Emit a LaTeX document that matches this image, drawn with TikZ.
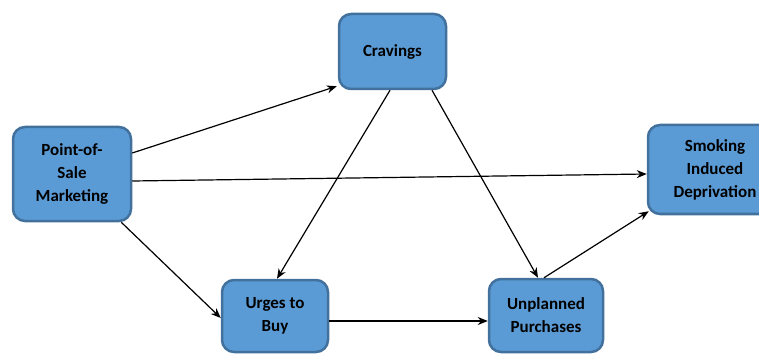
\documentclass[tikz,border=0pt]{standalone}
\usepackage{fontspec}
\setmainfont{Carlito}
\usetikzlibrary{calc,arrows.meta}
\definecolor{boxfill}{RGB}{91,155,213}
\definecolor{boxline}{RGB}{65,113,156}
\tikzset{
  block/.style={draw=boxline, fill=boxfill, line width=2.5pt, rounded corners=12pt,
    align=center, inner sep=0pt,
    font=\fontsize{17}{23}\selectfont\bfseries, text=black},
  conn/.style={line width=1.2pt, -{Stealth[length=10pt,width=8pt]}}
}
\begin{document}
\begin{tikzpicture}[x=1pt,y=-1pt]
\useasboundingbox (0,0) rectangle (759,355);
\node[block, minimum width=107pt, minimum height=75pt] (crav) at (392.5,51.5) {Cravings};
\node[block, minimum width=118pt, minimum height=94pt] (pos) at (72,174) {Point-of-\\Sale\\Marketing};
\node[block, minimum width=134pt, minimum height=89pt] (smoke) at (715,169.5) {Smoking\\Induced\\Deprivation};
\node[block, minimum width=106pt, minimum height=72pt] (urges) at (275,316) {Urges to\\Buy};
\node[block, minimum width=114pt, minimum height=73pt] (unpl) at (546,315.5) {Unplanned\\Purchases};

\draw[conn] ($(pos.east)+(0,-21)$) -- ($(crav.south west)+(-1,-4)$);
\draw[conn] ($(pos.east)+(0,7)$) -- ($(smoke.west)+(0,4.5)$);
\draw[conn] ($(pos.south east)+(-11,0)$) -- ($(urges.west)+(0,2)$);
\draw[conn] ($(crav.south)+(-2.5,0)$) -- ($(urges.north)+(2,0)$);
\draw[conn] ($(crav.south)+(39.5,0)$) -- ($(unpl.north)+(-8,0)$);
\draw[conn] ($(urges.east)+(0,5)$) -- ($(unpl.west)+(0,5.5)$);
\draw[conn] ($(unpl.north)+(-2,0)$) -- ($(smoke.south west)+(2,-4)$);
\end{tikzpicture}
\end{document}
